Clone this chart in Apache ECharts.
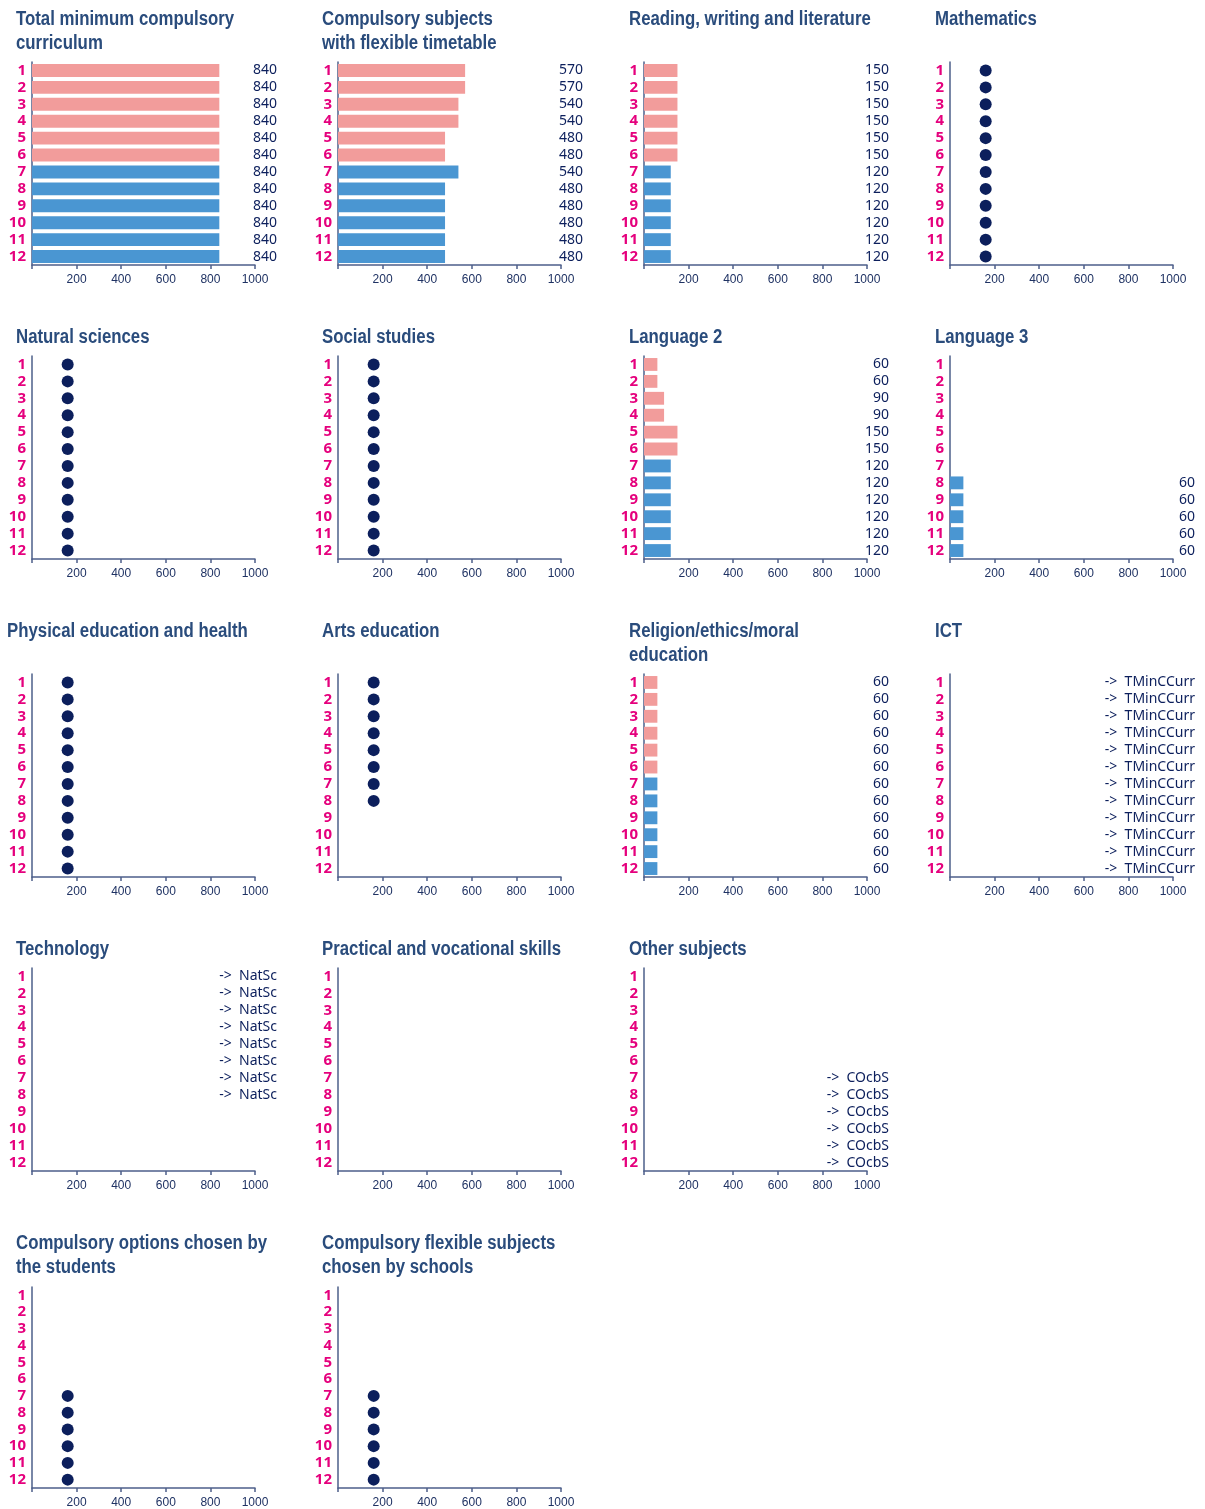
<!DOCTYPE html>
<html>
<head>
<meta charset="utf-8">
<script src="https://cdn.jsdelivr.net/npm/echarts@6/dist/echarts.min.js"></script>
<style>
  html, body { margin: 0; padding: 0; background: #fff; }
  #main { width: 1205px; height: 1509px; }
</style>
</head>
<body>
<div id="main"></div>
<script>
// grades shown on every panel
const grades = ['1', '2', '3', '4', '5', '6', '7', '8', '9', '10', '11', '12']

// bar values (hours), null = no bar
const totalMinimum = [840, 840, 840, 840, 840, 840, 840, 840, 840, 840, 840, 840]
const flexibleTimetable = [570, 570, 540, 540, 480, 480, 540, 480, 480, 480, 480, 480]
const readingWriting = [150, 150, 150, 150, 150, 150, 120, 120, 120, 120, 120, 120]
const language2 = [60, 60, 90, 90, 150, 150, 120, 120, 120, 120, 120, 120]
const language3 = [null, null, null, null, null, null, null, 60, 60, 60, 60, 60]
const religion = [60, 60, 60, 60, 60, 60, 60, 60, 60, 60, 60, 60]

// flexible subjects are drawn as dots
const mathematicsDots = [160, 160, 160, 160, 160, 160, 160, 160, 160, 160, 160, 160]
const naturalSciencesDots = [160, 160, 160, 160, 160, 160, 160, 160, 160, 160, 160, 160]
const socialStudiesDots = [160, 160, 160, 160, 160, 160, 160, 160, 160, 160, 160, 160]
const physicalEdDots = [160, 160, 160, 160, 160, 160, 160, 160, 160, 160, 160, 160]
const artsDots = [160, 160, 160, 160, 160, 160, 160, 160, null, null, null, null]
const optionsStudentsDots = [null, null, null, null, null, null, 160, 160, 160, 160, 160, 160]
const flexibleSchoolsDots = [null, null, null, null, null, null, 160, 160, 160, 160, 160, 160]

// notes written at the right of a row
const ictNotes = ['->  TMinCCurr', '->  TMinCCurr', '->  TMinCCurr', '->  TMinCCurr', '->  TMinCCurr', '->  TMinCCurr',
  '->  TMinCCurr', '->  TMinCCurr', '->  TMinCCurr', '->  TMinCCurr', '->  TMinCCurr', '->  TMinCCurr']
const technologyNotes = ['->  NatSc', '->  NatSc', '->  NatSc', '->  NatSc', '->  NatSc', '->  NatSc', '->  NatSc', '->  NatSc', '', '', '', '']
const otherNotes = ['', '', '', '', '', '', '->  COcbS', '->  COcbS', '->  COcbS', '->  COcbS', '->  COcbS', '->  COcbS']

const xTicks = [200, 400, 600, 800, 1000]

// slot = position in the 4-column grid (slot 15 stays empty)
const panels = [
  { slot: 0, title: 'Total minimum compulsory\ncurriculum', bars: totalMinimum },
  { slot: 1, title: 'Compulsory subjects\nwith flexible timetable', bars: flexibleTimetable },
  { slot: 2, title: 'Reading, writing and literature', bars: readingWriting },
  { slot: 3, title: 'Mathematics', dots: mathematicsDots },
  { slot: 4, title: 'Natural sciences', dots: naturalSciencesDots },
  { slot: 5, title: 'Social studies', dots: socialStudiesDots },
  { slot: 6, title: 'Language 2', bars: language2 },
  { slot: 7, title: 'Language 3', bars: language3 },
  { slot: 8, title: 'Physical education and health', dots: physicalEdDots, titleLeft: 7 },
  { slot: 9, title: 'Arts education', dots: artsDots },
  { slot: 10, title: 'Religion/ethics/moral\neducation', bars: religion },
  { slot: 11, title: 'ICT', notes: ictNotes },
  { slot: 12, title: 'Technology', notes: technologyNotes },
  { slot: 13, title: 'Practical and vocational skills' },
  { slot: 14, title: 'Other subjects', notes: otherNotes },
  { slot: 16, title: 'Compulsory options chosen by\nthe students', dots: optionsStudentsDots },
  { slot: 17, title: 'Compulsory flexible subjects\nchosen by schools', dots: flexibleSchoolsDots }
]

// layout
const colLeft = [32, 338, 644, 950]
const colTitle = [16, 322, 629, 935]
const rowTop = [62, 356, 674, 968, 1287]
const rowTitle = [7, 325, 619, 937, 1231]
const plotW = 223
const plotH = 203

const pink = '#f29c9b'
const blue = '#4a96d2'
const navy = '#0c1f5c'
const axisColor = '#4d5f8a'
const titleColor = '#2a4c7c'
const gradeColor = '#e5007d'

const chart = echarts.init(document.getElementById('main'), null, { renderer: 'canvas' })

const titles = []
const grids = []
const xAxes = []
const yAxes = []
const series = []

panels.forEach((p, i) => {
  const col = p.slot % 4
  const row = Math.floor(p.slot / 4)
  // condensed title: Liberation Sans bold squeezed horizontally
  titles.push({
    type: 'text',
    x: p.titleLeft != null ? p.titleLeft : colTitle[col],
    y: rowTitle[row],
    scaleX: 0.84,
    silent: true,
    style: {
      text: p.title,
      font: 'bold 20px "Liberation Sans", Arial, sans-serif',
      fill: titleColor,
      lineHeight: 24,
      verticalAlign: 'top'
    }
  })
  grids.push({ left: colLeft[col], top: rowTop[row], width: plotW, height: plotH })
  xAxes.push({
    gridIndex: i,
    type: 'value',
    min: 0,
    max: 1000,
    interval: 200,
    splitLine: { show: false },
    axisLine: { show: true, lineStyle: { color: axisColor, width: 1.5 } },
    axisTick: { show: true, length: 4, lineStyle: { color: axisColor, width: 1.5 } },
    axisLabel: {
      margin: 9,
      color: '#1f3263',
      fontFamily: '"Liberation Sans", sans-serif',
      fontSize: 12,
      formatter: v => (xTicks.indexOf(v) >= 0 ? String(v) : '')
    }
  })
  // right side labels: bar values or notes
  let rightLabels = grades.map(() => '')
  if (p.bars) rightLabels = p.bars.map(v => (v == null ? '' : String(v)))
  if (p.notes) rightLabels = p.notes
  yAxes.push({
    gridIndex: i,
    type: 'category',
    data: grades,
    inverse: true,
    axisLine: { show: true, lineStyle: { color: axisColor, width: 1.5 } },
    axisTick: { show: false },
    axisLabel: {
      interval: 0,
      margin: 6,
      color: gradeColor,
      fontFamily: '"Open Sans", "Noto Sans", sans-serif',
      fontWeight: 'bold',
      fontSize: 15
    }
  })
  yAxes.push({
    gridIndex: i,
    type: 'category',
    data: grades,
    inverse: true,
    position: 'right',
    axisLine: { show: false },
    axisTick: { show: false },
    axisLabel: {
      interval: 0,
      margin: 22,
      align: 'right',
      color: navy,
      fontFamily: '"Noto Sans", sans-serif',
      fontSize: 14,
      formatter: (v, idx) => rightLabels[idx]
    }
  })
  if (p.bars) {
    series.push({
      type: 'bar',
      xAxisIndex: i,
      yAxisIndex: i * 2,
      barCategoryGap: '24%',
      silent: true,
      itemStyle: {
        color: params => (params.dataIndex < 6 ? pink : blue)
      },
      data: p.bars
    })
  }
  if (p.dots) {
    series.push({
      type: 'scatter',
      xAxisIndex: i,
      yAxisIndex: i * 2,
      symbol: 'circle',
      symbolSize: 12,
      silent: true,
      itemStyle: { color: navy, opacity: 1 },
      data: p.dots
    })
  }
})

chart.setOption({
  backgroundColor: '#ffffff',
  animation: false,
  graphic: titles,
  grid: grids,
  xAxis: xAxes,
  yAxis: yAxes,
  series: series
})
</script>
</body>
</html>
